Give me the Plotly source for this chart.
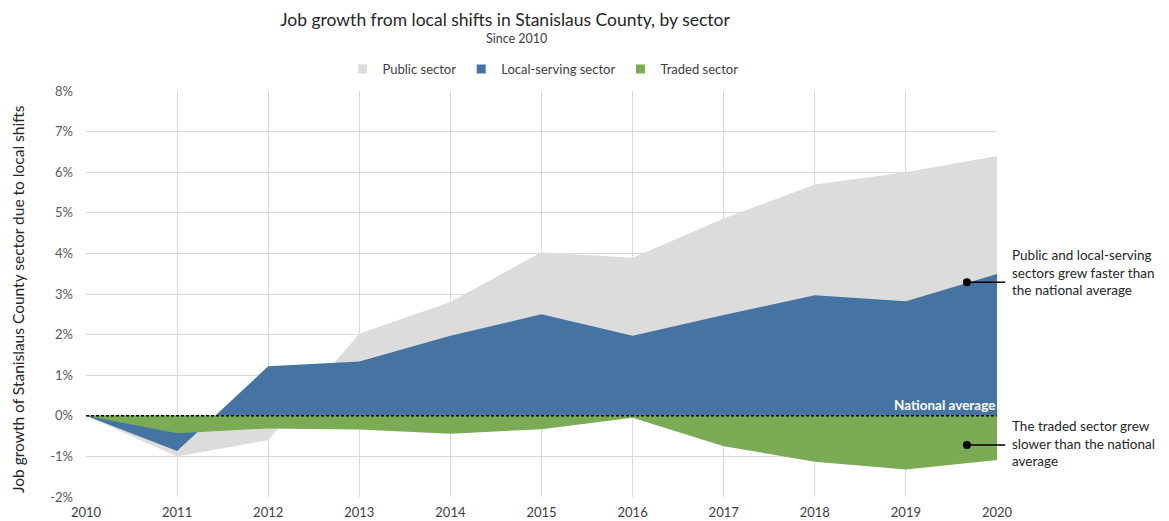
import plotly.graph_objects as go

years = [2010, 2011, 2012, 2013, 2014, 2015, 2016, 2017, 2018, 2019, 2020]
public_sector = [0, -1.00, -0.60, 2.02, 2.80, 4.03, 3.89, 4.86, 5.70, 6.00, 6.40]
local_serving = [0, -0.87, 1.22, 1.34, 1.97, 2.50, 1.97, 2.48, 2.97, 2.82, 3.49]
traded_sector = [0, -0.43, -0.31, -0.34, -0.44, -0.33, -0.05, -0.75, -1.13, -1.32, -1.09]

series_names = ["Public sector", "Local-serving sector", "Traded sector"]
series_values = [public_sector, local_serving, traded_sector]
colors = ["#dcdcdc", "#4674a2", "#7bab55"]

y_ticks = list(range(-2, 9))
y_tick_labels = [f"{v}%" for v in y_ticks]

callout_x = 2019.67
callout_y = [3.29, -0.72]
callout_text = [
    "Public and local-serving<br>sectors grew faster than<br>the national average",
    "The traded sector grew<br>slower than the national<br>average",
]
callout_text_shift = [10, 2]

FONT = "Lato, 'Open Sans', sans-serif"

W, H = 1169, 521
ML, MR, MT, MB = 86, 172, 91, 24
plot_w = W - ML - MR
plot_h = H - MT - MB

fig = go.Figure()
for name, vals, col in zip(series_names, series_values, colors):
    fig.add_trace(go.Scatter(
        x=years, y=vals, mode="lines", fill="tozeroy",
        line=dict(width=0, color=col), fillcolor=col,
        showlegend=False, hoverinfo="x+y", name=name,
    ))
for name, col in zip(series_names, colors):
    fig.add_trace(go.Scatter(
        x=[None], y=[None], mode="markers", name=name,
        marker=dict(symbol="square", size=9, color=col),
    ))

fig.add_trace(go.Scatter(
    x=[callout_x] * len(callout_y), y=callout_y, mode="markers",
    marker=dict(size=8, color="black"), showlegend=False, hoverinfo="skip",
))

fig.add_shape(type="line", xref="x", yref="y", x0=years[0], x1=years[-1], y0=0, y1=0,
              line=dict(color="black", width=1.5, dash="3px,2px"), layer="above")

fig.add_annotation(x=years[-1], y=0, xref="x", yref="y", xanchor="right", yanchor="bottom",
                   text="<b>National average</b>", showarrow=False,
                   font=dict(family=FONT, size=13.5, color="white"), yshift=1)

ymin, ymax = -2, 8
xmin, xmax = 2010, 2020
for cy, txt, sh in zip(callout_y, callout_text, callout_text_shift):
    py = (cy - ymin) / (ymax - ymin)
    px0 = (callout_x - xmin) / (xmax - xmin)
    fig.add_shape(type="line", xref="paper", yref="paper", x0=px0, x1=1.009, y0=py, y1=py,
                  line=dict(color="black", width=1.5), layer="above")
    fig.add_annotation(x=1.0, y=py, xref="paper", yref="paper", xanchor="left", yanchor="middle",
                       xshift=13, yshift=sh, align="left", text=txt, showarrow=False,
                       font=dict(family=FONT, size=13.5, color="#262626"))

fig.add_annotation(x=(516 - ML) / plot_w, y=(H - MB - 38) / plot_h, xref="paper", yref="paper",
                   text="Since 2010", showarrow=False, xanchor="center", yanchor="middle",
                   font=dict(family=FONT, size=12.5, color="#404040"))

# y-axis title as rotated annotation
fig.add_annotation(x=(18 - ML) / plot_w, y=(H - MB - 299) / plot_h, xref="paper", yref="paper",
                   text="Job growth of Stanislaus County sector due to local shifts",
                   textangle=-90, showarrow=False, xanchor="center", yanchor="middle",
                   font=dict(family=FONT, size=15.5, color="#262626"))

fig.update_layout(
    width=W, height=H,
    margin=dict(l=ML, r=MR, t=MT, b=MB, autoexpand=False),
    paper_bgcolor="white", plot_bgcolor="white",
    font=dict(family=FONT, color="#595959", size=12),
    title=dict(
        text="Job growth from local shifts in Stanislaus County, by sector",
        x=505 / W, xanchor="center", xref="container",
        y=1 - 20 / H, yanchor="middle", yref="container",
        font=dict(family=FONT, size=17.5, color="#262626"),
    ),
    legend=dict(orientation="h", x=(543 - ML) / plot_w, xanchor="center",
                y=(H - MB - 69) / plot_h, yanchor="middle",
                font=dict(family=FONT, size=13, color="#404040"), itemwidth=30,
                bgcolor="rgba(0,0,0,0)"),
    showlegend=True,
    xaxis=dict(range=[xmin, xmax], tickmode="array", tickvals=years,
               ticktext=[str(y) for y in years], showgrid=True, gridcolor="#d9d9d9",
               zeroline=False, showline=False, ticks="", automargin=False,
               ticklabelstandoff=6,
               tickfont=dict(size=13, color="#404040"), fixedrange=True),
    yaxis=dict(range=[ymin, ymax], tickmode="array", tickvals=y_ticks, ticktext=y_tick_labels,
               showgrid=True, gridcolor="#d9d9d9", zeroline=False, showline=False, ticks="",
               ticklabelstandoff=12, automargin=False,
               tickfont=dict(size=13, color="#595959"), fixedrange=True),
)

fig.write_html("out.html", config={"displayModeBar": False},
               post_script="document.body.style.margin='0';")
